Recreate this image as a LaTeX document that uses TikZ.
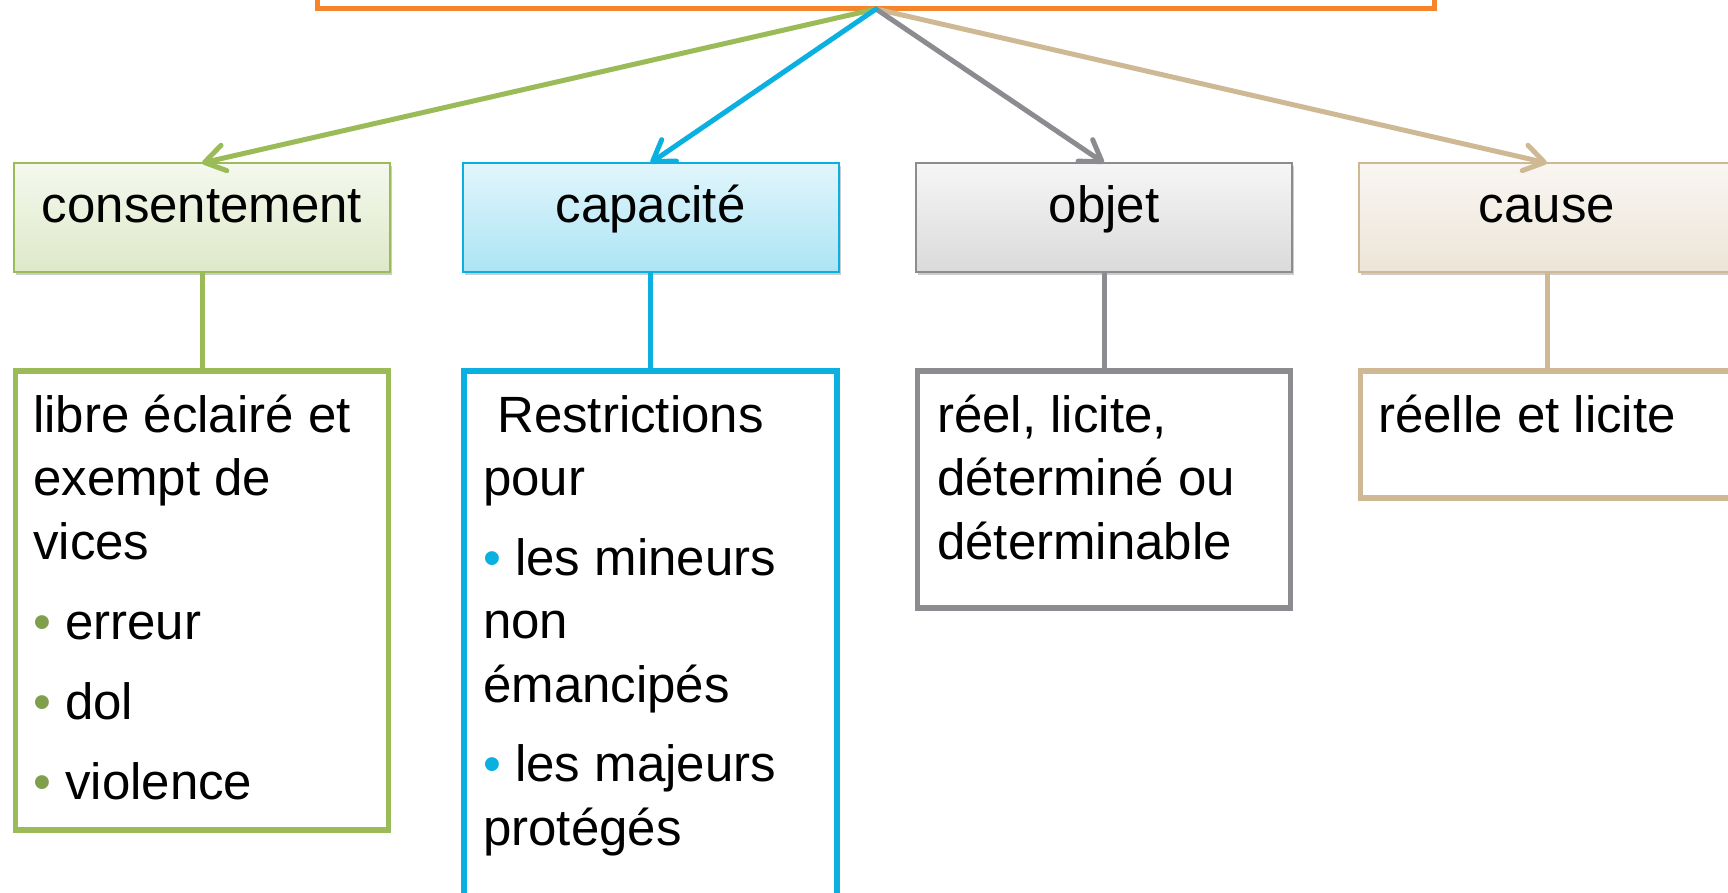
\documentclass[tikz,border=0pt]{standalone}
\usepackage{fontspec}
\setmainfont{Liberation Sans}
\usetikzlibrary{arrows.meta,shadows}
\definecolor{orangeC}{HTML}{F6842A}
\definecolor{greenC}{HTML}{9BBB59}
\definecolor{blueC}{HTML}{0AB0E0}
\definecolor{grayC}{HTML}{8C8C90}
\definecolor{tanC}{HTML}{CFB995}
\definecolor{greenDot}{HTML}{7F9F4C}
\newcommand{\bul}[1]{\textcolor{#1}{•}}
\newcommand{\firstline}{\rule{0pt}{48pt}}
\tikzset{
  head/.style={draw, line width=2pt, minimum width=376pt, minimum height=109pt, outer sep=0pt,
    text height=30pt, text depth=19pt, font=\fontsize{51}{63.5}\selectfont,
    drop shadow={shadow xshift=2pt, shadow yshift=-3pt, opacity=0.2, fill=black}},
  body/.style={draw, line width=5.5pt, minimum width=373pt, outer sep=0pt, anchor=north, fill=white},
  txt/.style={anchor=north west, inner sep=0pt, align=left, font=\fontsize{51}{63.5}\selectfont},
  link/.style={line width=5pt, line cap=round, -{Straight Barb[length=20pt,width=26pt,round]}},
  stem/.style={line width=5pt},
}
\begin{document}
\begin{tikzpicture}[x=1pt,y=-1pt]
\useasboundingbox (0,0) rectangle (1728,893);
\clip (0,0) rectangle (1728,893);
\node[draw=orangeC, line width=5pt, fill=white, minimum width=1117pt, minimum height=218pt, outer sep=0pt] (top) at (876,-100) {};
% headings
\node[head, draw=greenC, top color=green!4!greenC!10, bottom color=greenC!33] (cons) at (202,217.5) {consentement};
\node[head, draw=blueC, top color=blueC!12, bottom color=blueC!34] (capa) at (650.5,217.5) {capacité};
\node[head, draw=grayC, top color=grayC!8, bottom color=grayC!32] (obj) at (1104,217.5) {objet};
\node[head, draw=tanC, top color=tanC!12, bottom color=tanC!38] (cause) at (1547,217.5) {cause};
% contents
\node[body, draw=greenC, minimum height=459pt] (consB) at (202,371) {};
\node[body, draw=blueC, minimum height=700pt] (capaB) at (650.5,371) {};
\node[body, draw=grayC, minimum height=237pt] (objB) at (1104,371) {};
\node[body, draw=tanC, minimum height=127pt] (causeB) at (1547,371) {};
\node[txt] (consT) at (33,384) {\firstline libre éclairé et\\ exempt de\\ vices\\[16.5pt]
  \bul{greenDot} erreur\\[16.5pt] \bul{greenDot} dol\\[16.5pt] \bul{greenDot} violence};
\node[txt] (capaT) at (483,384) {\firstline\hspace*{14pt}Restrictions\\ pour\\[16pt]
  \bul{blueC} les mineurs\\ non\\ émancipés\\[16pt] \bul{blueC} les majeurs\\ protégés};
\node[txt] (objT) at (937,384) {\firstline réel, licite,\\ déterminé ou\\ déterminable};
\node[txt] (causeT) at (1378,384) {\firstline réelle et licite};
% connectors
\path[link, greenC] (top.south) edge (cons.north);
\path[link, tanC] (top.south) edge (cause.north);
\path[link, grayC] (top.south) edge (obj.north);
\path[link, blueC] (top.south) edge (capa.north);
\path[stem, greenC] (cons.south) edge (consB.north);
\path[stem, blueC] (capa.south) edge (capaB.north);
\path[stem, grayC] (obj.south) edge (objB.north);
\path[stem, tanC] (cause.south) edge (causeB.north);
\end{tikzpicture}
\end{document}
